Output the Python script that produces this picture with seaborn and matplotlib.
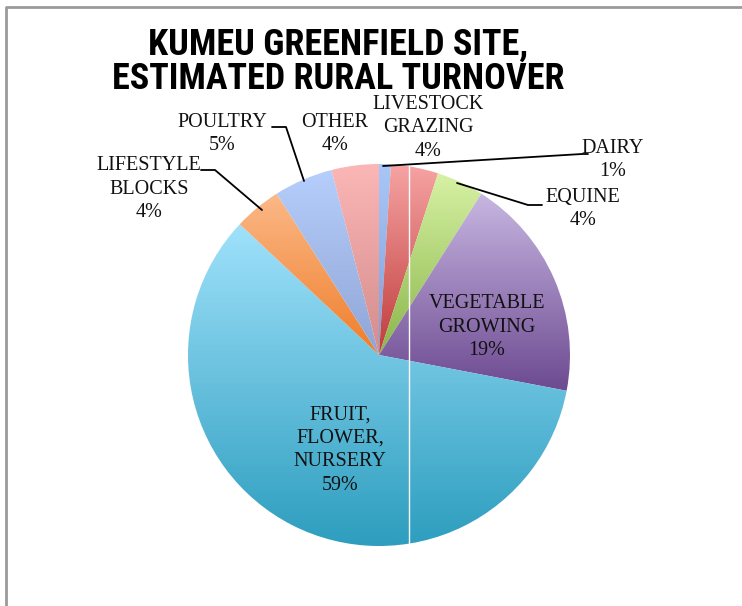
import numpy as np
import seaborn as sns
import matplotlib.pyplot as plt
from matplotlib.colors import to_rgb
from matplotlib import font_manager

# slices clockwise from 12 o'clock
labels = ['DAIRY', 'LIVESTOCK\nGRAZING', 'EQUINE', 'VEGETABLE\nGROWING',
          'FRUIT,\nFLOWER,\nNURSERY', 'LIFESTYLE\nBLOCKS', 'POULTRY', 'OTHER']
shares = [1, 4, 4, 19, 59, 4, 5, 4]
top_colors = ['#a9c6f7', '#f6a3a3', '#d6f1a3', '#c7b6e1', '#9fe1fb', '#fbb887', '#b6cefb', '#fbb6b6']
bottom_colors = ['#7f9fd9', '#bf3c3b', '#8bb64b', '#6d4a91', '#2e9ebf', '#ef7e2b', '#8fa5d6', '#d48c8c']
title_lines = ['KUMEU GREENFIELD SITE,', 'ESTIMATED RURAL TURNOVER']

W, H = 742, 606
CX, CY, R = 379, H - 355, 191


def gradient_wedge(ax, wedge, c_top, c_bot):
    """ Fill a wedge with a vertical top-to-bottom gradient. """
    wedge.set_facecolor('none')
    ext = wedge.get_path().get_extents(wedge.get_transform())
    x0, y0, x1, y1 = ax.transData.inverted().transform(
        [[ext.x0, ext.y0], [ext.x1, ext.y1]]).ravel()
    cols = np.array([to_rgb(c) for c in sns.blend_palette([c_top, c_bot], 64)])
    img = np.repeat(cols[:, None, :], 2, axis=1)
    im = ax.imshow(img, extent=(x0, x1, y0, y1), origin='upper',
                   aspect='auto', interpolation='bilinear', zorder=2)
    im.set_clip_path(wedge)


def title_font():
    names = {f.name for f in font_manager.fontManager.ttflist}
    for n in ['Liberation Sans Narrow', 'DejaVu Sans Condensed', 'Roboto Condensed']:
        if n in names:
            return n, 'normal'
    return 'DejaVu Sans', 'condensed'


def main():
    sns.set_style('white')
    fig = plt.figure(figsize=(W / 100, H / 100), dpi=100)
    ax = fig.add_axes([0, 0, 1, 1])

    wedges, _ = ax.pie(shares, startangle=90, counterclock=False,
                       center=(CX, CY), radius=R, frame=True,
                       wedgeprops=dict(linewidth=0))
    ax.set_xlim(0, W)
    ax.set_ylim(0, H)
    ax.set_aspect('equal')
    ax.axis('off')
    for w, ct, cb in zip(wedges, top_colors, bottom_colors):
        gradient_wedge(ax, w, ct, cb)

    # thin white seam across the pie (as in the original)
    ax.plot([409, 409], [H - 165, H - 546], color='white', lw=1, zorder=3)

    # frame
    ax.plot([6, 6, W], [0, H - 7, H - 7], color='#9a9a9a', lw=2, zorder=5,
            solid_capstyle='butt')

    fam, stretch = title_font()
    for line, y in zip(title_lines, [45, 79]):
        ax.text(338, H - y, line, ha='center', va='center', fontsize=26,
                fontweight='bold', family=fam, fontstretch=stretch, color='black')

    kw = dict(ha='center', va='center', fontsize=14.5, family='Liberation Serif',
              linespacing=1.32, color='#111111', zorder=6)
    pct = ['%d%%' % s for s in shares]
    text_pos = [(613, H - 160), (428, H - 128), (583, H - 209), (487, H - 327),
                (340, H - 450), (149, H - 189), (222, H - 134), (335, H - 134)]
    for lab, p, (x, y) in zip(labels, pct, text_pos):
        ax.text(x, y, lab + '\n' + p, **kw)

    line_kw = dict(color='black', lw=1.3, zorder=6)
    ax.plot([383, 582, 588], [H - 166, H - 154, H - 154], **line_kw)
    ax.plot([457, 528, 542], [H - 183, H - 205, H - 205], **line_kw)
    ax.plot([262, 215, 201], [H - 210, H - 170, H - 170], **line_kw)
    ax.plot([304, 286, 272], [H - 181, H - 127, H - 127], **line_kw)

    fig.savefig('out.png', dpi=100, facecolor='white')


if __name__ == '__main__':
    main()
